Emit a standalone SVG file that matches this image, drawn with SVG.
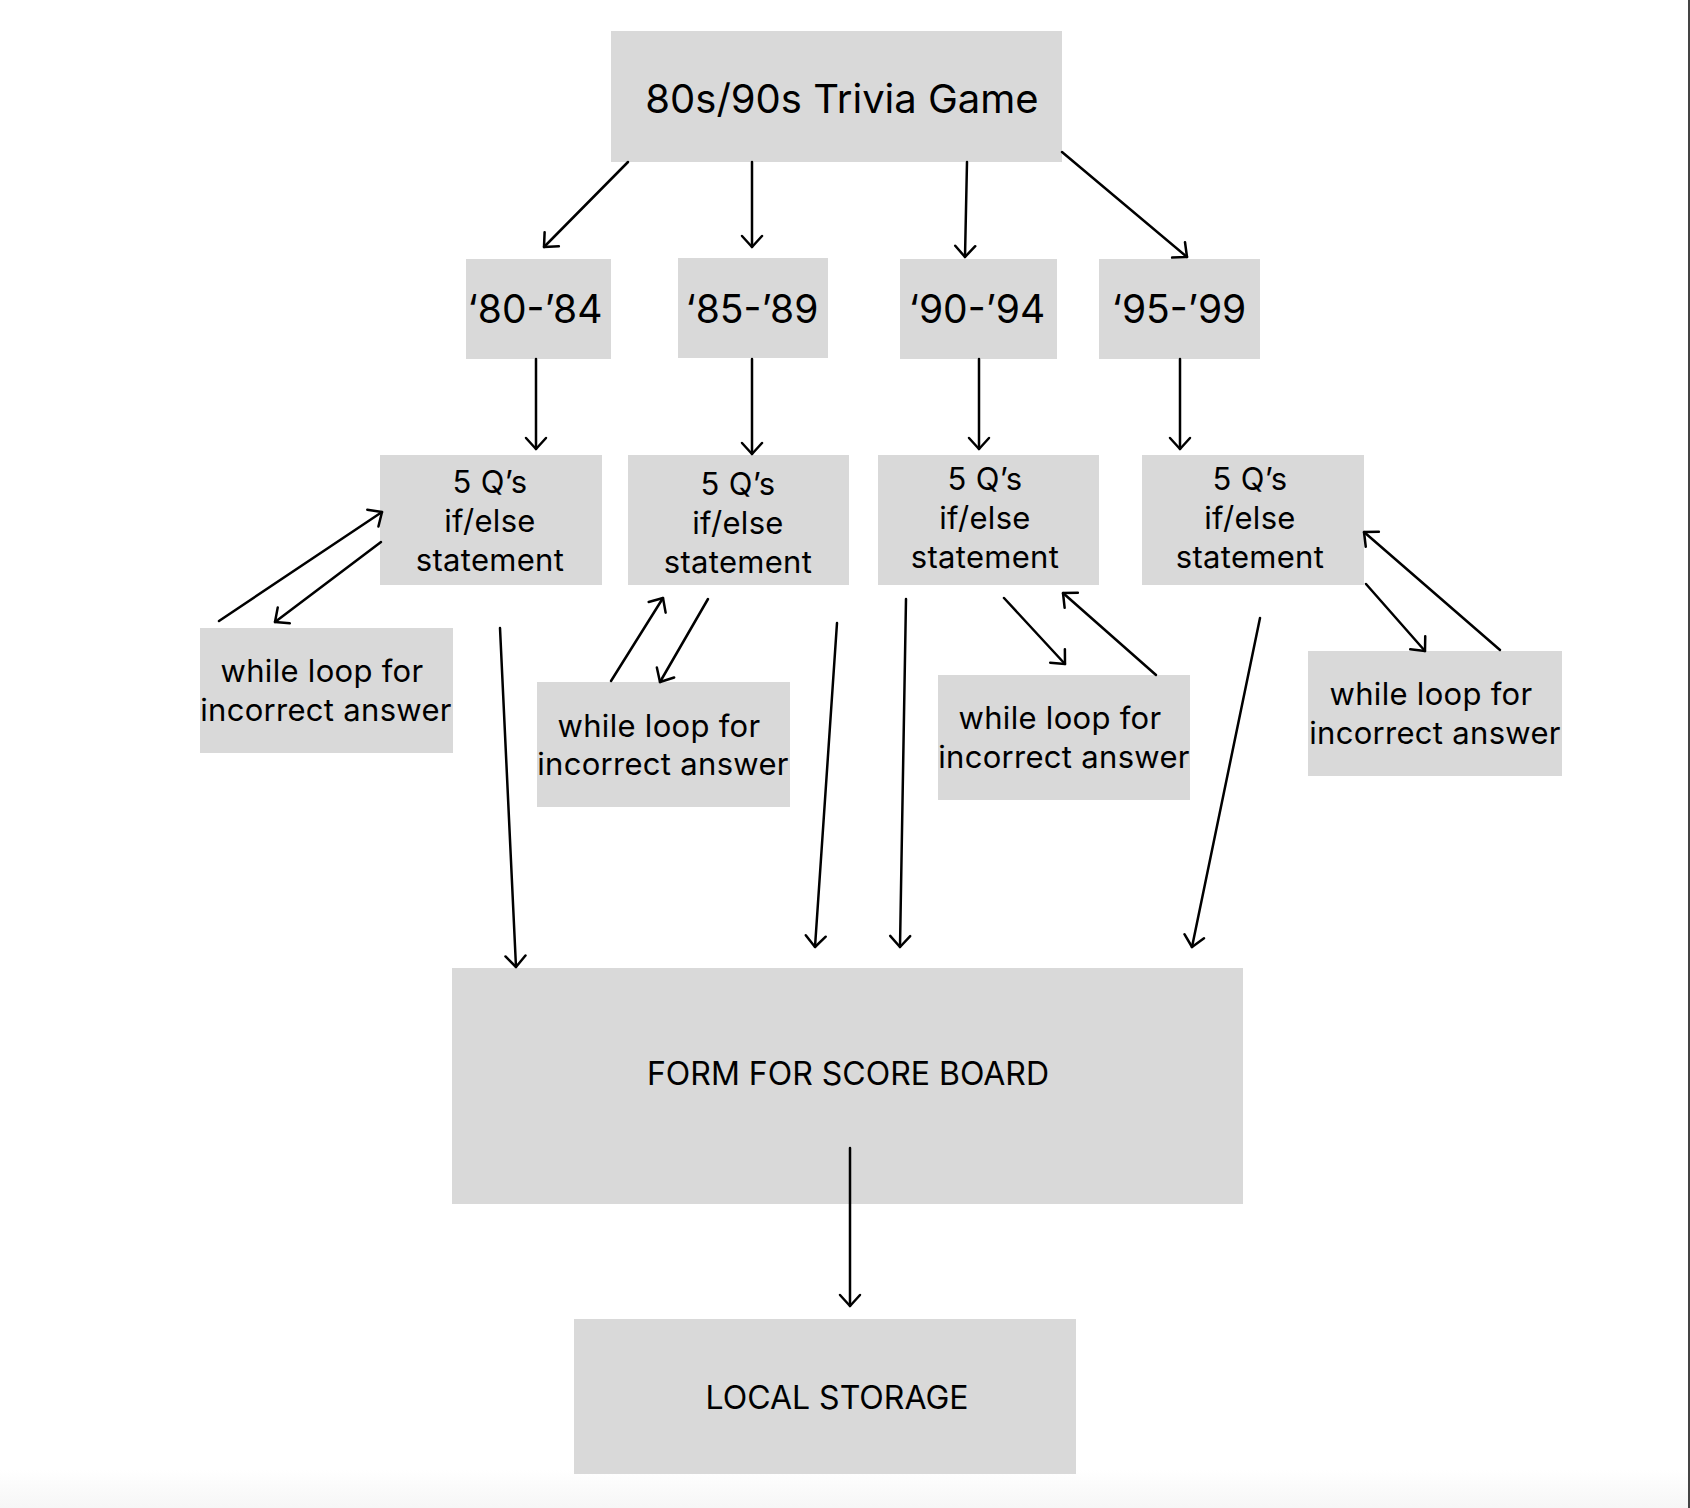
<svg xmlns="http://www.w3.org/2000/svg" width="1690" height="1508" viewBox="0 0 1690 1508">
<defs>
<style>
.box{fill:#d9d9d9}
.t{font-family:Inter,"Noto Sans","Liberation Sans",sans-serif;fill:#000;text-anchor:middle}
.big{font-size:40px}
.yr{font-size:39px}
.mid{font-size:31px;letter-spacing:0.3px}
.cap{font-size:32px}
.c line{stroke:#000;stroke-width:2.5;stroke-linecap:round;marker-end:url(#ah)}
</style>
<marker id="ah" markerUnits="userSpaceOnUse" viewBox="-15 -15 30 30" markerWidth="30" markerHeight="30" refX="0" refY="0" orient="auto" overflow="visible">
<path d="M-11,-10 L0,0 L-11,10" fill="none" stroke="#000" stroke-width="2.5" stroke-linecap="round" stroke-linejoin="round"/>
</marker>
<linearGradient id="bg" x1="0" y1="0" x2="0" y2="1">
<stop offset="0" stop-color="#ffffff"/>
<stop offset="1" stop-color="#f6f6f6"/>
</linearGradient>
</defs>
<rect width="1690" height="1508" fill="#fff"/>
<rect x="0" y="1470" width="1690" height="38" fill="url(#bg)"/>
<rect x="1688" y="0" width="2" height="1508" fill="#444"/>

<g id="title"><rect class="box" x="611" y="31" width="451" height="131"/><text class="t big" x="842" y="113">80s/90s Trivia Game</text></g>

<g id="y80"><rect class="box" x="466" y="259" width="145" height="100"/><text class="t yr" x="535" y="323">‘80-’84</text></g>
<g id="y85"><rect class="box" x="678" y="258" width="150" height="100"/><text class="t yr" x="752" y="323">‘85-’89</text></g>
<g id="y90"><rect class="box" x="900" y="259" width="157" height="100"/><text class="t yr" x="977" y="323">‘90-’94</text></g>
<g id="y95"><rect class="box" x="1099" y="259" width="161" height="100"/><text class="t yr" x="1179" y="323">‘95-’99</text></g>

<g id="q1"><rect class="box" x="380" y="455" width="222" height="130"/><text class="t mid"><tspan x="490" y="493">5 Q’s</tspan><tspan x="490" y="532">if/else</tspan><tspan x="490" y="571">statement</tspan></text></g>
<g id="q2"><rect class="box" x="628" y="455" width="221" height="130"/><text class="t mid"><tspan x="738" y="495">5 Q’s</tspan><tspan x="738" y="534">if/else</tspan><tspan x="738" y="573">statement</tspan></text></g>
<g id="q3"><rect class="box" x="878" y="455" width="221" height="130"/><text class="t mid"><tspan x="985" y="490">5 Q’s</tspan><tspan x="985" y="529">if/else</tspan><tspan x="985" y="568">statement</tspan></text></g>
<g id="q4"><rect class="box" x="1142" y="455" width="222" height="130"/><text class="t mid"><tspan x="1250" y="490">5 Q’s</tspan><tspan x="1250" y="529">if/else</tspan><tspan x="1250" y="568">statement</tspan></text></g>

<g id="w1"><rect class="box" x="200" y="628" width="253" height="125"/><text class="t mid"><tspan x="322" y="682">while loop for</tspan><tspan x="326" y="721">incorrect answer</tspan></text></g>
<g id="w2"><rect class="box" x="537" y="682" width="253" height="125"/><text class="t mid"><tspan x="659" y="737">while loop for</tspan><tspan x="663" y="775">incorrect answer</tspan></text></g>
<g id="w3"><rect class="box" x="938" y="675" width="252" height="125"/><text class="t mid"><tspan x="1060" y="729">while loop for</tspan><tspan x="1064" y="768">incorrect answer</tspan></text></g>
<g id="w4"><rect class="box" x="1308" y="651" width="254" height="125"/><text class="t mid"><tspan x="1431" y="705">while loop for</tspan><tspan x="1435" y="744">incorrect answer</tspan></text></g>

<g id="form"><rect class="box" x="452" y="968" width="791" height="236"/><text class="t cap" x="848" y="1085">FORM FOR SCORE BOARD</text></g>
<g id="storage"><rect class="box" x="574" y="1319" width="502" height="155"/><text class="t cap" x="837" y="1409">LOCAL STORAGE</text></g>

<g id="connectors" class="c">
<line x1="628" y1="162" x2="544" y2="247"/>
<line x1="752" y1="162" x2="752" y2="247"/>
<line x1="967" y1="162" x2="965" y2="257"/>
<line x1="1062" y1="152" x2="1187" y2="257"/>
<line x1="536" y1="359" x2="536" y2="449"/>
<line x1="752" y1="359" x2="752" y2="454"/>
<line x1="979" y1="359" x2="979" y2="449"/>
<line x1="1180" y1="359" x2="1180" y2="449"/>
<line x1="219" y1="621" x2="382" y2="512"/>
<line x1="381" y1="542" x2="275" y2="622"/>
<line x1="611" y1="681" x2="663" y2="598"/>
<line x1="708" y1="599" x2="660" y2="682"/>
<line x1="1004" y1="598" x2="1065" y2="664"/>
<line x1="1156" y1="675" x2="1063" y2="593"/>
<line x1="1366" y1="584" x2="1425" y2="651"/>
<line x1="1500" y1="650" x2="1364" y2="532"/>
<line x1="500" y1="628" x2="516" y2="967"/>
<line x1="837" y1="623" x2="815" y2="947"/>
<line x1="906" y1="599" x2="900" y2="947"/>
<line x1="1260" y1="618" x2="1192" y2="947"/>
<line x1="850" y1="1148" x2="850" y2="1306"/>
</g>
</svg>
